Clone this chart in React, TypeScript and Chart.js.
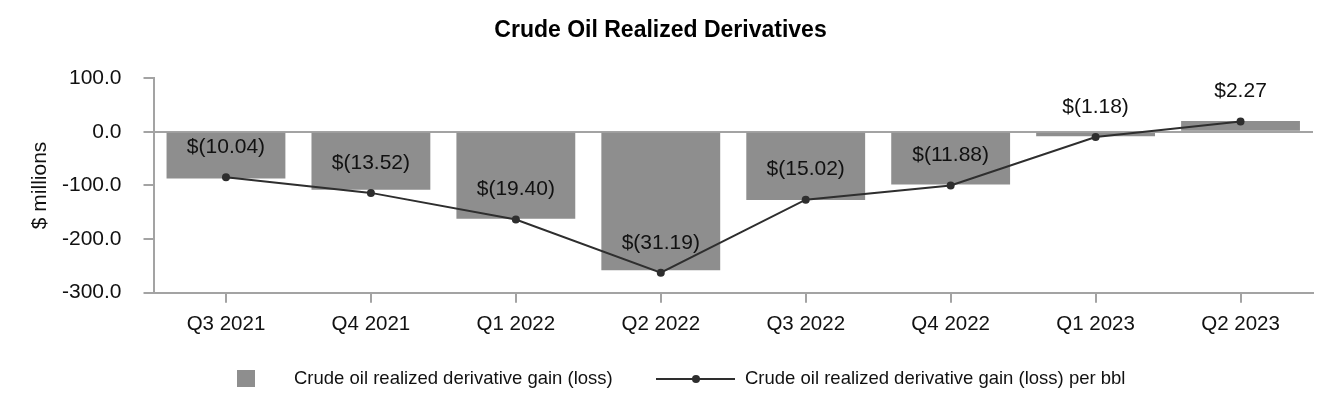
import React, { useEffect, useRef } from 'react';
import { Chart, registerables } from 'chart.js';

Chart.register(...registerables);

const categories = ['Q3 2021', 'Q4 2021', 'Q1 2022', 'Q2 2022', 'Q3 2022', 'Q4 2022', 'Q1 2023', 'Q2 2023'];
const gainLoss = [-87, -108, -162, -258, -127, -98.5, -8.6, 19.9];
const perBbl = [-10.04, -13.52, -19.4, -31.19, -15.02, -11.88, -1.18, 2.27];
const yMin = -300;
const yMax = 100;
const yStep = 100;

const FONT = "'Liberation Sans', Arial, sans-serif";
const BAR_COLOR = '#8e8e8e';
const LINE_COLOR = '#2e2e2e';
const AXIS_COLOR = '#a3a3a3';

const fmtBbl = (v: number) => (v < 0 ? `$(${Math.abs(v).toFixed(2)})` : `$${v.toFixed(2)}`);

const labelPlugin = {
  id: 'perBblLabels',
  afterDatasetsDraw(chart: any) {
    const ctx = chart.ctx;
    const meta = chart.getDatasetMeta(1);
    ctx.save();
    ctx.font = `21px ${FONT}`;
    ctx.fillStyle = '#111';
    ctx.textAlign = 'center';
    ctx.textBaseline = 'middle';
    meta.data.forEach((el: any, i: number) => {
      ctx.fillText(fmtBbl(perBbl[i]), el.x, el.y - 30);
    });
    ctx.restore();
  },
};

const legendPlugin = {
  id: 'customLegend',
  afterDraw(chart: any) {
    const ctx = chart.ctx;
    const y = 371;
    ctx.save();
    ctx.fillStyle = BAR_COLOR;
    ctx.fillRect(229, 362, 18, 17);
    ctx.font = `18.5px ${FONT}`;
    ctx.fillStyle = '#111';
    ctx.textAlign = 'left';
    ctx.textBaseline = 'middle';
    ctx.fillText(chart.data.datasets[0].label, 286, y);
    ctx.strokeStyle = LINE_COLOR;
    ctx.lineWidth = 2;
    ctx.beginPath();
    ctx.moveTo(648, y);
    ctx.lineTo(727, y);
    ctx.stroke();
    ctx.fillStyle = LINE_COLOR;
    ctx.beginPath();
    ctx.arc(688, y, 4, 0, Math.PI * 2);
    ctx.fill();
    ctx.fillStyle = '#111';
    ctx.fillText(chart.data.datasets[1].label, 737, y);
    ctx.restore();
  },
};

export default function App() {
  const ref = useRef<HTMLCanvasElement | null>(null);

  useEffect(() => {
    if (!ref.current) return;
    const chart = new Chart(ref.current, {
      type: 'bar',
      data: {
        labels: categories,
        datasets: [
          {
            type: 'bar',
            label: 'Crude oil realized derivative gain (loss)',
            data: gainLoss,
            backgroundColor: BAR_COLOR,
            borderWidth: 0,
            categoryPercentage: 1,
            barPercentage: 0.82,
            yAxisID: 'y',
            order: 1,
          },
          {
            type: 'line',
            label: 'Crude oil realized derivative gain (loss) per bbl',
            data: perBbl,
            borderColor: LINE_COLOR,
            backgroundColor: LINE_COLOR,
            borderWidth: 2,
            pointRadius: 4,
            pointBorderWidth: 0,
            pointBackgroundColor: LINE_COLOR,
            tension: 0,
            yAxisID: 'y1',
            order: 0,
          },
        ],
      },
      options: {
        animation: false,
        responsive: true,
        maintainAspectRatio: false,
        layout: { padding: { left: 0, right: 11, top: 0, bottom: 69.3 } },
        plugins: {
          legend: { display: false },
          tooltip: { enabled: false },
          title: {
            display: true,
            text: 'Crude Oil Realized Derivatives',
            color: '#000',
            font: { family: FONT, size: 23, weight: 'bold' },
            padding: { top: 9, bottom: 33.5 },
          },
        },
        scales: {
          x: {
            afterFit: (s: any) => {
              s.height = 50;
            },
            grid: {
              offset: false,
              drawOnChartArea: false,
              tickLength: 10,
              tickColor: AXIS_COLOR,
              lineWidth: 2,
            },
            border: { display: true, color: AXIS_COLOR, width: 2 },
            ticks: { color: '#111', padding: 9, font: { family: FONT, size: 20.5 } },
          },
          y: {
            min: yMin,
            max: yMax,
            afterFit: (s: any) => {
              s.width = 145.5;
            },
            ticks: {
              stepSize: yStep,
              color: '#111',
              padding: 22,
              font: { family: FONT, size: 21 },
              callback: (v: any) => Number(v).toFixed(1),
            },
            grid: {
              drawOnChartArea: true,
              color: (c: any) => (c.tick && c.tick.value === 0 ? AXIS_COLOR : 'rgba(0,0,0,0)'),
              tickColor: AXIS_COLOR,
              tickLength: 10,
              lineWidth: 2,
            },
            border: { display: true, color: AXIS_COLOR, width: 2 },
            title: {
              display: true,
              text: '$ millions',
              color: '#111',
              font: { family: FONT, size: 21 },
              padding: { top: 20, bottom: 0 },
            },
          },
          y1: {
            display: false,
            min: -35.6,
            max: 11.87,
          },
        },
      },
      plugins: [labelPlugin, legendPlugin],
    } as any);
    return () => chart.destroy();
  }, []);

  return (
    <div style={{ position: 'relative', width: '1316px', height: '404px' }}>
      <canvas ref={ref} />
    </div>
  );
}
